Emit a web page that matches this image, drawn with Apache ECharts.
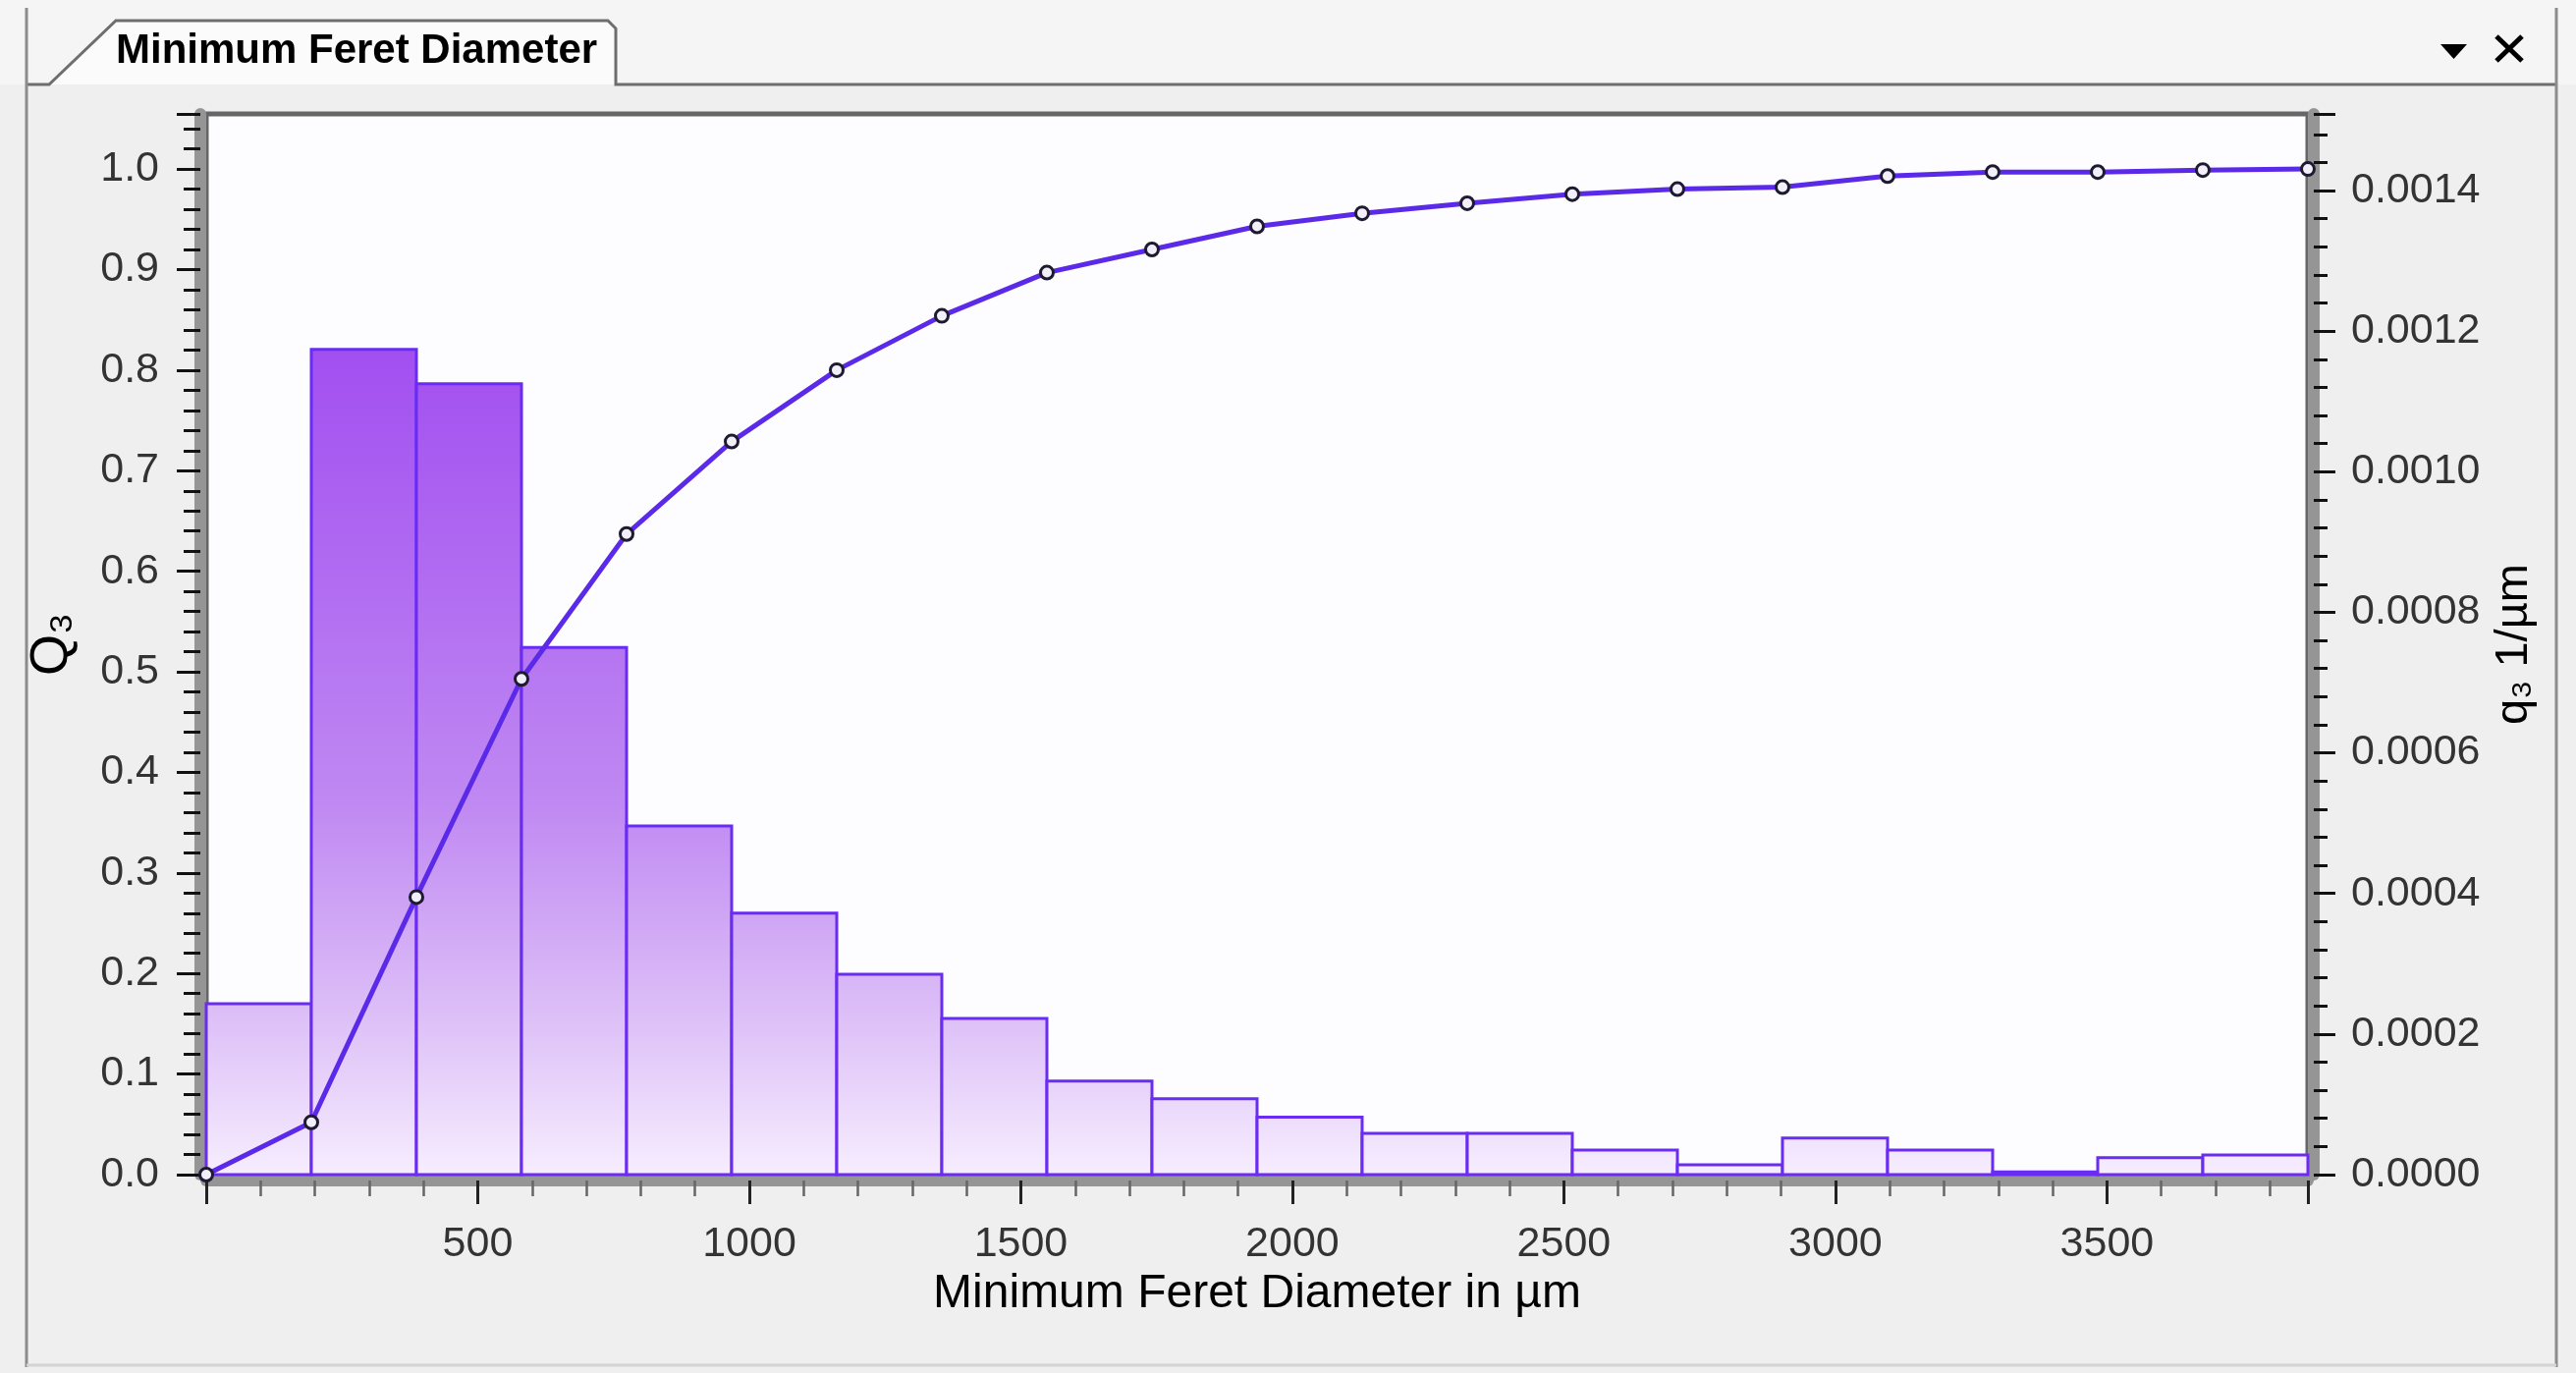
<!DOCTYPE html>
<html>
<head>
<meta charset="utf-8">
<title>Minimum Feret Diameter</title>
<script src="https://cdn.jsdelivr.net/npm/echarts@6/dist/echarts.min.js"></script>
<style>
  html, body { margin: 0; padding: 0; background: #efefef; }
  #chart { width: 2623px; height: 1398px; }
</style>
</head>
<body>
<div id="chart"></div>
<script>
// Class edges of the size distribution (µm)
const binEdges = [0, 193.5, 387, 580.5, 774, 967.5, 1161, 1354.5, 1548, 1741.5, 1935,
                  2128.5, 2322, 2515.5, 2709, 2902.5, 3096, 3289.5, 3483, 3676.5, 3870];
// Density distribution q3 per class (1/µm)
const densityQ3 = [0.000243, 0.001174, 0.001125, 0.000750, 0.000496, 0.000372, 0.000285,
                   0.000222, 0.000133, 0.000108, 0.0000817, 0.0000587, 0.0000587, 0.000035,
                   0.000014, 0.000052, 0.000035, 0.000004, 0.000024, 0.000028];
// Cumulative distribution Q3 at each class edge
const cumulativeQ3 = [0, 0.052, 0.276, 0.493, 0.637, 0.729, 0.800, 0.854, 0.897, 0.920, 0.943,
                      0.956, 0.966, 0.975, 0.980, 0.982, 0.993, 0.997, 0.997, 0.999, 1.000];
const xTickStep = 500;
const leftTickStep = 0.1;
const rightTickStep = 0.0002;

const GRID = { left: 210, top: 116, width: 2140, height: 1080 };
const FONT = "'Liberation Sans', Arial, sans-serif";

const chart = echarts.init(document.getElementById('chart'), null, { renderer: 'canvas' });

const barFill = new echarts.graphic.LinearGradient(0, 350, 0, GRID.top + GRID.height, [
  { offset: 0, color: '#a24ef0' },
  { offset: 0.55, color: '#bf88f2' },
  { offset: 0.8, color: '#dcbdf7' },
  { offset: 1, color: '#f6edfe' }
], true);

const histData = densityQ3.map((v, i) => [binEdges[i], binEdges[i + 1], v]);
const cumData = binEdges.map((e, i) => [e, cumulativeQ3[i]]);

const option = {
  backgroundColor: '#efefef',
  animation: false,
  textStyle: { fontFamily: FONT },
  grid: {
    left: GRID.left, top: GRID.top, width: GRID.width, height: GRID.height,
    containLabel: false, show: true,
    backgroundColor: '#fdfcfe', borderColor: '#666', borderWidth: 5
  },
  xAxis: {
    type: 'value', min: 0, max: binEdges[binEdges.length - 1], interval: xTickStep,
    offset: 6,
    name: 'Minimum Feret Diameter in µm', nameLocation: 'middle', nameGap: 82,
    nameTextStyle: { fontFamily: FONT, fontSize: 48, color: '#000' },
    axisLine: { show: true, onZero: false, lineStyle: { color: '#959595', width: 12 } },
    axisTick: { show: true, length: 24, lineStyle: { color: '#222', width: 3 } },
    minorTick: { show: true, splitNumber: 5, length: 16, lineStyle: { color: '#666', width: 2.5 } },
    splitLine: { show: false },
    axisLabel: {
      margin: 44, fontSize: 43, color: '#333', fontFamily: FONT,
      formatter: v => (v > 0 && Math.abs(v % xTickStep) < 1e-6) ? String(v) : ''
    }
  },
  yAxis: [
    {
      type: 'value', position: 'left', min: 0, max: 1.0548, interval: leftTickStep,
      offset: 6,
      name: 'Q₃', nameLocation: 'middle', nameGap: 124, nameRotate: 90,
      nameTextStyle: { fontFamily: FONT, fontSize: 54, color: '#000' },
      axisLine: { show: true, onZero: false, lineStyle: { color: '#959595', width: 12 } },
      axisTick: { show: true, length: 24, lineStyle: { color: '#111', width: 3 } },
      minorTick: { show: true, splitNumber: 5, length: 17, lineStyle: { color: '#111', width: 3 } },
      splitLine: { show: false },
      axisLabel: {
        margin: 42, fontSize: 43, color: '#333', fontFamily: FONT,
        formatter: v => v <= 1.0001 ? v.toFixed(1) : ''
      }
    },
    {
      type: 'value', position: 'right', min: 0, max: 0.001509, interval: rightTickStep,
      offset: 6,
      name: 'q₃ 1/µm', nameLocation: 'middle', nameGap: 180, nameRotate: 90,
      nameTextStyle: { fontFamily: FONT, fontSize: 47, color: '#000' },
      axisLine: { show: true, onZero: false, lineStyle: { color: '#959595', width: 12 } },
      axisTick: { show: true, length: 22, lineStyle: { color: '#111', width: 3 } },
      minorTick: { show: true, splitNumber: 5, length: 14, lineStyle: { color: '#111', width: 3 } },
      splitLine: { show: false },
      axisLabel: {
        margin: 38, fontSize: 43, color: '#333', fontFamily: FONT,
        formatter: v => v <= 0.00141 ? v.toFixed(4) : ''
      }
    }
  ],
  series: [
    {
      name: 'q3', type: 'custom', xAxisIndex: 0, yAxisIndex: 1, z: 2,
      data: histData,
      encode: { x: [0, 1], y: 2 },
      renderItem: function (params, api) {
        const top = api.coord([api.value(0), api.value(2)]);
        const base = api.coord([api.value(1), 0]);
        return {
          type: 'rect',
          shape: { x: top[0], y: top[1], width: base[0] - top[0], height: base[1] - top[1] },
          style: { fill: barFill, stroke: '#6a2cf2', lineWidth: 3 }
        };
      }
    },
    {
      name: 'Q3', type: 'line', xAxisIndex: 0, yAxisIndex: 0, z: 3,
      data: cumData,
      smooth: false,
      symbol: 'circle', symbolSize: 13,
      lineStyle: { color: '#5a2ae8', width: 5 },
      itemStyle: { color: '#f2eefa', borderColor: '#1e1a30', borderWidth: 3 }
    }
  ],
  graphic: [
    // header strip above the panel
    { type: 'rect', z: -10, shape: { x: 0, y: 0, width: 2623, height: 86 }, style: { fill: '#f5f5f5' } },
    // active tab
    {
      type: 'polygon', z: -5,
      shape: { points: [[50, 86], [118, 21], [619, 21], [627, 29], [627, 86]] },
      style: { fill: '#fbfbfb' }
    },
    {
      type: 'polyline', z: 5,
      shape: { points: [[28, 86], [50, 86], [118, 21], [619, 21], [627, 29], [627, 86], [2603, 86]] },
      style: { stroke: '#6e6e6e', lineWidth: 3, fill: null }
    },
    {
      type: 'text', z: 5, x: 118, y: 52,
      style: { text: 'Minimum Feret Diameter', font: 'bold 42px ' + FONT, fill: '#000', verticalAlign: 'middle' }
    },
    // window frame
    { type: 'line', z: 5, shape: { x1: 27, y1: 8, x2: 27, y2: 1392 }, style: { stroke: '#8c8c8c', lineWidth: 3 } },
    { type: 'line', z: 5, shape: { x1: 2603, y1: 8, x2: 2603, y2: 1392 }, style: { stroke: '#8c8c8c', lineWidth: 3 } },
    { type: 'line', z: 5, shape: { x1: 27, y1: 1390, x2: 2603, y2: 1390 }, style: { stroke: '#d4d4d4', lineWidth: 3 } },
    // tab controls: dropdown arrow and close cross
    {
      type: 'polygon', z: 5,
      shape: { points: [[2485, 45], [2512, 45], [2498.5, 60]] },
      style: { fill: '#000' }
    },
    { type: 'line', z: 5, shape: { x1: 2542, y1: 37, x2: 2568, y2: 62 }, style: { stroke: '#000', lineWidth: 5 } },
    { type: 'line', z: 5, shape: { x1: 2568, y1: 37, x2: 2542, y2: 62 }, style: { stroke: '#000', lineWidth: 5 } }
  ]
};

chart.setOption(option);
</script>
</body>
</html>
